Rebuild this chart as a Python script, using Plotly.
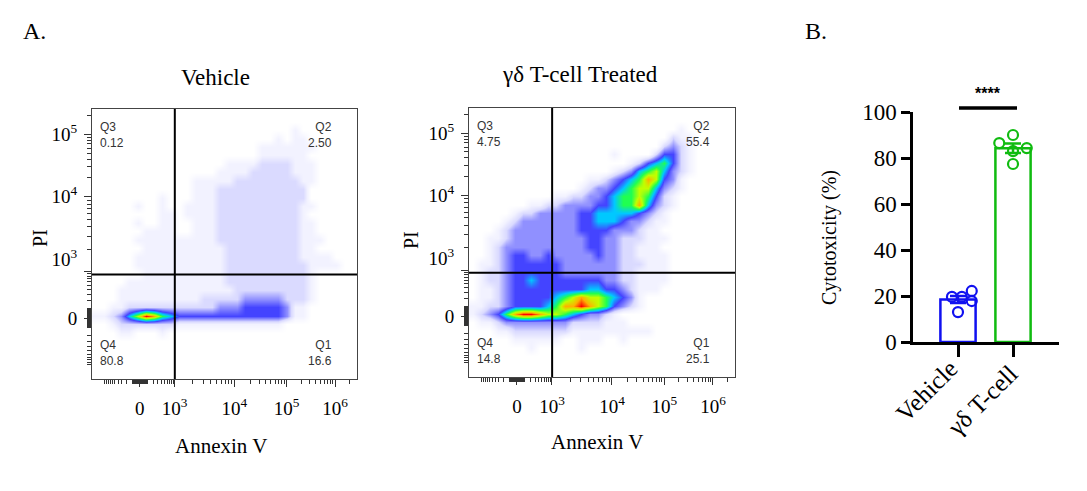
import numpy as np
import plotly.graph_objects as go

# ---- flow cytometry density (levels 0-9, top row first) ----
vehicle_density = [
    "00000000000000000000000000000000",
    "00000000000000000000000000000000",
    "00000000000000000000000010000000",
    "00000000000000000000001011000000",
    "00000000000000000000111111100000",
    "00000000000000000000111111000000",
    "00000000000000001111222211100000",
    "00000000000000011112222211100000",
    "00000000000011111222222221100000",
    "00000000000011122222222222000000",
    "00000000100011122222222222000000",
    "00000100100111122222222221100000",
    "00000000110111122222222221000000",
    "00000100110011122222222221100000",
    "00000011110011122222222221100000",
    "00000111111111122222222221110000",
    "00000011111111112222222221100000",
    "00000111111111112222222221111000",
    "00000111111111112222222222111100",
    "00000011111111112222222222100000",
    "00001111111111112222222222100000",
    "00011111111111111222222222100000",
    "00011111111112222233333222100000",
    "00112222222222233344444311000000",
    "11235798654444444444444311000000",
    "00122222221111111111111000000000",
    "00011000100000000000000000000000",
    "00000000000000000000000000000000",
    "00000000000000000000000000000000",
    "00000000000000000000000000000000",
    "00000000000000000000000000000000",
    "00000000000000000000000000000000",
]

treated_density = [
    "00000000000000000000000000000000",
    "00000000000000000000000000000000",
    "00000000000000000000000001000000",
    "00000000000000000000000021100000",
    "00000000000000000000000232100000",
    "00000000000000000100002442100000",
    "00000000000000000001245642100000",
    "00000000000000000123567532100000",
    "00000000000000112345687431000000",
    "00000000000001233456775321000000",
    "00000000001122334566764210000000",
    "00000001122333344566853210000000",
    "00000122333334455555432100000000",
    "00001233333334455543321100000000",
    "00012333333334444333211000000000",
    "00112333333333443322211100000000",
    "00123333333333443322111000000000",
    "00123443343333343322111100000000",
    "01123444444333333322211100000000",
    "01223444444333333322111100000000",
    "01223445444444443322111100000000",
    "01123444444444554432111000000000",
    "01123444445678776543100000000000",
    "11223444456889876432100000000000",
    "12346899877654332100000000000000",
    "01123333333322221110000000000000",
    "00011222222211111111110000000000",
    "00000111111001110010000000000000",
    "00000001000001000000000000000000",
    "00000000000000000000000000000000",
    "00000000000000000000000000000000",
    "00000000000000000000000000000000",
]

quadrant_names = ["Q1", "Q2", "Q3", "Q4"]
vehicle_pct = ["16.6", "2.50", "0.12", "80.8"]
treated_pct = ["25.1", "55.4", "4.75", "14.8"]

# ---- cytotoxicity (%) ----
groups = ["Vehicle", "γδ T-cell"]
vehicle_cyto = [19.6, 19.6, 22.2, 13.0, 17.8]
gd_cyto = [86.5, 90.0, 84.3, 83.0, 77.4]
vehicle_jitter = [-0.11, 0.07, 0.25, 0.0, 0.25]
gd_jitter = [-0.25, 0.0, 0.25, 0.0, 0.0]

W, H = 1087, 491
SERIF = "Liberation Serif"
SANS = "Liberation Sans"

flow_scale = [
    [0.0, "#ffffff"], [1 / 9, "#f2f2ff"], [2 / 9, "#dadaff"], [3 / 9, "#9090ff"],
    [4 / 9, "#4444ff"], [5 / 9, "#00c8ff"], [6 / 9, "#20ff50"], [7 / 9, "#c0ff00"],
    [8 / 9, "#ffb000"], [1.0, "#ff0000"],
]


def to_grid(rows):
    return [[int(c) for c in r] for r in reversed(rows)]


# display positions (grid units 0-32) of the logicle-like axes
x_major = [5.77, 9.98, 17.2, 23.5, 29.35]
x_text = ["0", "10<sup>3</sup>", "10<sup>4</sup>", "10<sup>5</sup>", "10<sup>6</sup>"]
y_major = [7.23, 12.7, 21.6, 29.0]
# the 10^3 label sits a little above its tick in the original
y_text = ["0", "10<sup>3</sup><br> ", "10<sup>4</sup>", "10<sup>5</sup>"]


def minor_ticks(p0, decades, top):
    span = decades[0] - p0
    out = []
    lin = list(range(10, 100, 10)) + list(range(100, 1000, 100))
    for v in lin:
        d = span * np.arcsinh(v / 200) / np.arcsinh(1000 / 200)
        out += [p0 + d, p0 - d]
    out.append(p0 - span)
    step = decades[-1] - decades[-2]
    ext = decades + [decades[-1] + step]
    for a, b in zip(ext[:-1], ext[1:]):
        out += [a + (b - a) * np.log10(k) for k in range(2, 10)]
    return [t for t in out if 0 < t < top]


x_minor = minor_ticks(x_major[0], x_major[1:], 32)
y_minor = minor_ticks(y_major[0], y_major[1:], 32)

fig = go.Figure()

for i, rows in enumerate([vehicle_density, treated_density]):
    sfx = "" if i == 0 else "2"
    fig.add_trace(go.Heatmap(
        z=to_grid(rows), x=np.arange(32) + 0.5, y=np.arange(32) + 0.5,
        colorscale=flow_scale, zmin=0, zmax=9, zsmooth="best",
        showscale=False, hoverinfo="skip", xaxis="x" + sfx, yaxis="y" + sfx,
    ))

# bars with SEM
colors = ["#1010f0", "#10bb10"]
for i, (vals, jit) in enumerate([(vehicle_cyto, vehicle_jitter), (gd_cyto, gd_jitter)]):
    v = np.array(vals)
    sem = v.std(ddof=1) / np.sqrt(len(v))
    fig.add_trace(go.Bar(
        x=[i], y=[v.mean()], width=0.64, xaxis="x3", yaxis="y3",
        marker=dict(color="white", line=dict(color=colors[i], width=2.5)),
        error_y=dict(type="data", array=[sem], color=colors[i], thickness=2.5, width=8),
        hoverinfo="skip",
    ))
    fig.add_trace(go.Scatter(
        x=[i + j for j in jit], y=vals, mode="markers", xaxis="x3", yaxis="y3",
        marker=dict(symbol="circle-open", size=10, color=colors[i], line=dict(width=2.2)),
        cliponaxis=False, hoverinfo="skip",
    ))

flow_x = dict(
    range=[0, 32], showline=True, mirror=True, linecolor="#444", linewidth=1,
    ticks="outside", ticklen=7, tickcolor="#333", tickvals=x_major, ticktext=x_text,
    tickfont=dict(family=SERIF, size=19, color="black"), ticklabelstandoff=5,
    minor=dict(tickmode="array", tickvals=x_minor, ticklen=4, tickcolor="#333", ticks="outside"),
    showgrid=False, zeroline=False, fixedrange=True, automargin=False,
)
flow_y = dict(
    range=[0, 32], showline=True, mirror=True, linecolor="#444", linewidth=1,
    ticks="outside", ticklen=7, tickcolor="#333", tickvals=y_major, ticktext=y_text,
    tickfont=dict(family=SERIF, size=19, color="black"), ticklabelstandoff=3,
    minor=dict(tickmode="array", tickvals=y_minor, ticklen=4, tickcolor="#333", ticks="outside"),
    showgrid=False, zeroline=False, fixedrange=True, automargin=False,
)

fig.update_layout(
    width=W, height=H, margin=dict(l=0, r=0, t=0, b=0, autoexpand=False),
    paper_bgcolor="white", plot_bgcolor="white", showlegend=False, barmode="overlay",
    xaxis=dict(flow_x, domain=[92 / W, 357 / W], anchor="y"),
    yaxis=dict(flow_y, domain=[1 - 379 / H, 1 - 109 / H], anchor="x"),
    xaxis2=dict(flow_x, domain=[469 / W, 735 / W], anchor="y2"),
    yaxis2=dict(flow_y, domain=[1 - 377 / H, 1 - 108 / H], anchor="x2"),
    xaxis3=dict(
        domain=[913 / W, 1059 / W], anchor="y3", range=[-0.818, 1.836],
        tickvals=[0, 1], showticklabels=False, ticks="outside", ticklen=12,
        tickwidth=2.5, tickcolor="black", showline=True, linecolor="black", linewidth=2.5,
        showgrid=False, zeroline=False, automargin=False,
    ),
    yaxis3=dict(
        domain=[1 - 342 / H, 1 - 112 / H], anchor="x3", range=[0, 100],
        tickvals=[0, 20, 40, 60, 80, 100], ticks="outside", ticklen=9, tickwidth=2.5,
        tickcolor="black", showline=True, linecolor="black", linewidth=2.5,
        tickfont=dict(family=SERIF, size=23, color="black"), showgrid=False, zeroline=False,
        automargin=False,
    ),
)

# quadrant gates and labels
for sfx, pct in [("", vehicle_pct), ("2", treated_pct)]:
    xr, yr = "x" + sfx, "y" + sfx
    fig.add_shape(type="line", xref=xr, yref=yr, x0=10, x1=10, y0=0, y1=32,
                  line=dict(color="black", width=2), layer="above")
    fig.add_shape(type="line", xref=xr, yref=yr, x0=0, x1=32, y0=12.4, y1=12.4,
                  line=dict(color="black", width=2), layer="above")
    spots = {"Q1": (29.2, 3.14, "right"), "Q2": (29.2, 28.9, "right"),
             "Q3": (0.72, 28.9, "left"), "Q4": (0.72, 3.14, "left")}
    for name, p in zip(quadrant_names, pct):
        qx, qy, side = spots[name]
        fig.add_annotation(x=qx, y=qy, xref=xr, yref=yr, text=f"{name}<br>{p}",
                           showarrow=False, xanchor=side, yanchor="middle", align=side,
                           font=dict(family=SANS, size=12, color="#333"))


def label(text, x, y, size, angle=0, family=SERIF):
    fig.add_annotation(x=x / W, y=1 - y / H, xref="paper", yref="paper", text=text,
                       showarrow=False, textangle=angle, xanchor="center", yanchor="middle",
                       font=dict(family=family, size=size, color="black"))


label("A.", 34, 31, 24)
label("B.", 816, 31, 24)
label("Vehicle", 215, 78, 23)
label("γδ T-cell Treated", 580, 75, 23)
label("PI", 40, 238, 20, -90)
label("PI", 411, 240, 20, -90)
label("Annexin V", 221, 446, 21)
label("Annexin V", 597, 442, 21)
label("Cytotoxicity (%)", 830, 238, 20, -90)
label("<b>****</b>", 988, 94, 16, family=SANS)

# slanted group names under the bars
for name, (cx, cy) in zip(groups, [(926, 391), (982, 400)]):
    label(name, cx, cy, 25, -45)

fig.add_shape(type="line", xref="paper", yref="paper", x0=959 / W, x1=1017 / W,
              y0=1 - 108 / H, y1=1 - 108 / H, line=dict(color="black", width=3.5))

# the page's default body margin would shift the figure by 8 px
fig.write_html("out.html", config={"displayModeBar": False},
               post_script="document.body.style.margin='0';")
